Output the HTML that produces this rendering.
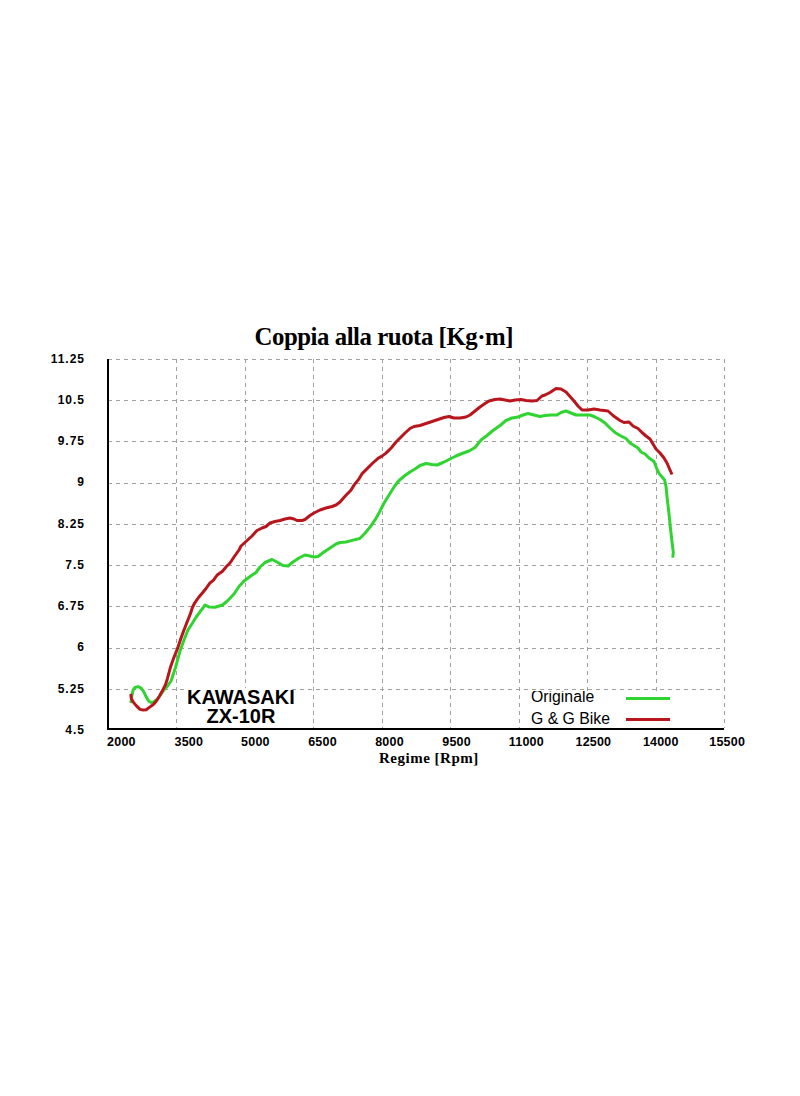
<!DOCTYPE html>
<html><head><meta charset="utf-8"><style>
html,body{margin:0;padding:0;background:#fff;width:800px;height:1096px;overflow:hidden;position:relative}
.t{position:absolute;white-space:nowrap;color:#000;line-height:1}
.yl{font:bold 12px 'Liberation Sans',sans-serif;letter-spacing:1px;text-align:right;width:60px}
.xl{font:bold 12.5px 'Liberation Sans',sans-serif;letter-spacing:0.2px}
</style></head><body>
<svg width="800" height="1096" style="position:absolute;left:0;top:0">
<g stroke="#a0a0a0" stroke-width="1" stroke-dasharray="4 4" fill="none">
<line x1="176.5" y1="359" x2="176.5" y2="728" />
<line x1="245.5" y1="359" x2="245.5" y2="728" />
<line x1="313.5" y1="359" x2="313.5" y2="728" />
<line x1="382.5" y1="359" x2="382.5" y2="728" />
<line x1="450.5" y1="359" x2="450.5" y2="728" />
<line x1="519.5" y1="359" x2="519.5" y2="728" />
<line x1="587.5" y1="359" x2="587.5" y2="728" />
<line x1="656.5" y1="359" x2="656.5" y2="728" />
<line x1="724.5" y1="359" x2="724.5" y2="728" />
<line x1="108" y1="359.5" x2="724" y2="359.5" />
<line x1="108" y1="400.5" x2="724" y2="400.5" />
<line x1="108" y1="441.5" x2="724" y2="441.5" />
<line x1="108" y1="483.5" x2="724" y2="483.5" />
<line x1="108" y1="524.5" x2="724" y2="524.5" />
<line x1="108" y1="565.5" x2="724" y2="565.5" />
<line x1="108" y1="606.5" x2="724" y2="606.5" />
<line x1="108" y1="648.5" x2="724" y2="648.5" />
<line x1="108" y1="689.5" x2="724" y2="689.5" />
</g>
<path d="M108,359 V729 H724" stroke="#000" stroke-width="2" fill="none"/>
<rect x="188" y="688" width="104" height="40" fill="#fff"/>
<rect x="521" y="691" width="201" height="37" fill="#fff"/>
<polyline points="130.9,703.1 131.9,695.6 133.1,690.0 135.0,687.5 138.1,686.6 141.2,688.1 143.8,691.9 146.2,696.9 148.8,701.2 151.2,702.5 153.8,701.9 157.5,698.8 161.2,693.8 164.4,689.4 167.5,686.2 171.0,681.0 175.5,667.5 180.0,651.0 184.2,639.5 188.0,629.8 192.5,623.0 196.2,617.0 200.0,611.8 203.0,608.0 204.9,605.0 209.0,606.9 215.0,607.2 222.5,605.0 226.2,602.0 230.0,598.2 234.0,594.0 239.0,586.5 244.0,581.0 250.0,576.5 256.0,572.5 260.0,567.0 265.0,562.5 272.0,559.5 276.0,561.5 283.0,565.5 288.0,566.0 293.0,562.0 299.0,558.0 305.0,555.0 310.0,556.0 314.0,557.0 318.0,556.5 324.0,552.0 330.0,548.0 336.0,544.0 340.0,542.5 346.0,542.0 353.1,540.1 359.7,538.5 365.2,533.0 370.6,526.4 375.0,519.9 379.4,512.2 383.8,503.5 389.2,494.7 394.7,486.0 399.1,480.5 405.0,475.5 410.0,472.0 415.0,469.0 420.0,465.5 426.0,463.5 432.0,464.5 437.0,465.0 443.0,462.5 450.0,459.0 456.0,456.0 462.0,453.5 469.0,451.0 475.0,447.5 481.0,440.0 487.0,435.5 493.0,430.5 500.0,425.5 506.0,420.5 512.0,418.0 518.0,417.0 523.0,415.0 528.0,413.5 534.0,415.0 540.0,416.5 545.0,415.5 551.0,415.0 557.0,415.0 561.0,412.5 566.0,411.0 571.0,413.0 576.0,415.0 582.0,415.0 590.0,415.0 595.0,417.0 600.0,419.5 605.0,423.0 610.0,428.0 615.0,432.5 620.0,435.5 626.0,438.5 630.0,443.0 634.0,445.5 638.0,448.0 641.0,452.0 645.0,454.0 649.0,458.0 654.0,461.5 657.3,470.0 659.2,473.6 664.6,480.0 666.0,486.4 667.4,500.1 669.2,515.6 670.6,529.3 671.9,541.2 673.3,552.1 672.8,557.6" fill="none" stroke="#30d430" stroke-width="3" stroke-linejoin="round" stroke-linecap="butt"/>
<polyline points="130.9,693.8 131.2,698.1 133.1,701.9 136.2,705.6 140.0,709.4 143.1,710.0 146.2,709.7 150.0,706.9 153.1,704.7 156.2,701.2 159.4,696.2 162.5,690.6 165.6,684.4 167.4,678.7 170.7,666.4 174.0,657.3 177.7,648.0 180.5,639.5 183.5,631.3 187.3,621.5 190.3,614.0 192.5,607.3 194.8,602.8 198.5,597.5 203.0,592.2 206.0,588.5 209.8,583.2 213.5,580.2 217.2,575.0 222.5,571.2 226.2,566.8 230.0,563.0 234.0,557.0 239.0,550.0 241.0,546.0 246.0,541.5 252.0,536.0 257.0,530.5 262.0,528.0 266.0,526.5 270.0,523.0 275.0,521.5 280.0,520.5 285.0,519.0 290.0,518.0 294.0,519.0 297.0,520.5 302.0,520.5 305.0,519.5 310.0,515.5 314.0,513.0 320.0,510.0 326.0,508.0 332.0,506.5 336.0,505.0 340.0,502.0 345.5,495.8 350.9,490.3 354.2,484.9 358.6,479.4 361.9,473.9 367.4,468.4 372.8,463.0 378.3,458.1 381.6,456.4 386.0,453.1 391.4,447.7 395.8,442.2 400.0,438.0 405.0,433.0 410.0,428.5 414.0,426.5 420.0,425.5 426.0,423.5 432.0,421.5 438.0,419.5 444.0,417.5 449.0,416.5 454.0,418.0 460.0,418.0 466.0,417.0 470.0,415.0 475.0,411.0 480.0,407.0 485.0,403.5 489.0,401.0 495.0,399.5 500.0,399.0 505.0,400.0 510.0,401.0 515.0,400.0 521.0,399.5 526.0,400.5 532.0,401.0 537.0,400.5 542.0,396.0 545.0,395.0 550.0,392.5 556.0,388.5 561.0,389.0 566.0,392.0 570.0,396.5 574.0,401.0 578.0,406.0 582.0,410.0 588.0,410.0 594.0,409.0 600.0,410.0 608.0,411.0 613.0,415.5 615.0,417.0 620.0,420.5 624.0,422.5 629.0,422.0 633.0,426.0 638.0,428.5 642.0,432.5 646.0,436.0 650.0,439.0 653.0,444.0 656.0,449.0 660.0,453.0 664.0,458.0 667.0,463.0 670.0,470.0 672.0,474.5" fill="none" stroke="#b8161c" stroke-width="3" stroke-linejoin="round" stroke-linecap="butt"/>
<rect x="626" y="697" width="44" height="3" fill="#30d430"/>
<rect x="626" y="718" width="44" height="3" fill="#b8161c"/>
</svg>
<div class="t" style="left:254.5px;top:322.8px;font:bold 24.8px 'Liberation Serif',serif;letter-spacing:-0.45px">Coppia alla ruota [Kg&#183;m]</div>
<div class="t yl" style="left:25px;top:351.50px">11.25</div>
<div class="t yl" style="left:25px;top:392.75px">10.5</div>
<div class="t yl" style="left:25px;top:434.00px">9.75</div>
<div class="t yl" style="left:25px;top:475.25px">9</div>
<div class="t yl" style="left:25px;top:516.50px">8.25</div>
<div class="t yl" style="left:25px;top:557.75px">7.5</div>
<div class="t yl" style="left:25px;top:599.00px">6.75</div>
<div class="t yl" style="left:25px;top:640.25px">6</div>
<div class="t yl" style="left:25px;top:681.50px">5.25</div>
<div class="t yl" style="left:25px;top:722.75px">4.5</div>
<div class="t xl" style="left:107.10px;top:735px">2000</div>
<div class="t xl" style="left:174.50px;top:735px">3500</div>
<div class="t xl" style="left:241.10px;top:735px">5000</div>
<div class="t xl" style="left:308.20px;top:735px">6500</div>
<div class="t xl" style="left:375.20px;top:735px">8000</div>
<div class="t xl" style="left:442.30px;top:735px">9500</div>
<div class="t xl" style="left:508.80px;top:735px">11000</div>
<div class="t xl" style="left:575.50px;top:735px">12500</div>
<div class="t xl" style="left:642.90px;top:735px">14000</div>
<div class="t xl" style="left:709.30px;top:735px">15500</div>
<div class="t" style="left:379px;top:750px;font:bold 15px 'Liberation Serif',serif;letter-spacing:0.5px">Regime [Rpm]</div>
<div class="t" style="left:187px;top:685.5px;font:bold 20px 'Liberation Sans',sans-serif;letter-spacing:0px">KAWASAKI</div>
<div class="t" style="left:206.5px;top:705.2px;font:bold 20px 'Liberation Sans',sans-serif;letter-spacing:0px">ZX-10R</div>
<div style="position:absolute;left:521px;top:691px;width:201px;height:37px;overflow:hidden">
<div class="t" style="left:10px;top:-3px;font:15.8px 'Liberation Sans',sans-serif;letter-spacing:0px">Originale</div>
<div class="t" style="left:10px;top:18.5px;font:15.8px 'Liberation Sans',sans-serif;letter-spacing:0px">G &amp; G Bike</div>
</div>
</body></html>
